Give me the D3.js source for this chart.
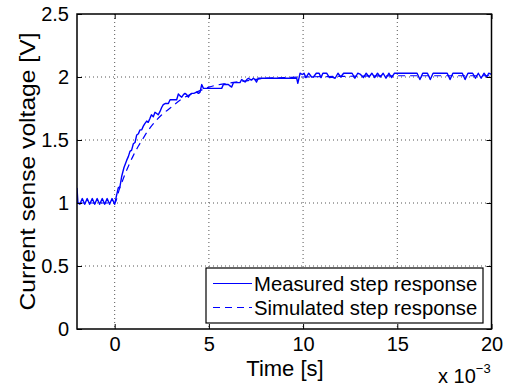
<!DOCTYPE html>
<html>
<head>
<meta charset="utf-8">
<script src="https://cdn.jsdelivr.net/npm/d3@7"></script>
<style>
    body { margin: 0; background: #fff; }
    svg { display: block; font-family: "Liberation Sans", Arial, sans-serif; }
</style>
</head>
<body>
<svg id="chart" width="510" height="387"></svg>
<script>
// time in ms (axis is shown as x 10^-3 s)
const measuredT = [
    -2.0, -1.95, -1.85, -1.72, -1.59, -1.46, -1.33, -1.19, -1.06, -0.93, -0.8, -0.66, -0.53, -0.4, -0.27, -0.14, 0.0,
    0.1, 0.19, 0.28, 0.37, 0.49, 0.64, 0.73, 0.81, 0.9, 0.99, 1.08, 1.17, 1.26, 1.34, 1.43, 1.52, 1.6, 1.7, 1.78,
    1.87, 1.95, 2.05, 2.14, 2.23, 2.31, 2.4, 2.5, 2.58, 2.7, 2.85, 2.94, 3.1, 3.29, 3.38, 3.47, 3.56, 3.65, 3.73,
    3.82, 3.91, 4.0, 4.09, 4.2, 4.35, 4.45, 4.53, 4.62, 4.71, 5.06, 5.68, 5.77, 6.03, 6.12, 6.21, 6.3, 6.65, 6.74,
    6.83, 6.92, 7.01, 7.1, 7.19, 7.27, 7.36, 7.45, 7.53, 7.62, 7.75, 7.89, 8.6, 9.66, 9.72, 9.84, 9.95, 10.05,
    10.15, 10.3, 10.45, 10.55, 10.7, 10.85, 10.95, 11.05, 11.25, 11.4, 11.55, 11.7, 11.85, 12.0, 12.15, 12.6,
    12.75, 12.9, 13.05, 13.2, 13.35, 13.5, 13.65, 13.8, 13.95, 14.1, 14.25, 14.4, 14.55, 14.7, 14.85, 15.0,
    16.05, 16.2, 16.35, 16.6, 16.75, 16.9, 17.65, 17.8, 17.95, 18.45, 18.6, 18.75, 19.0, 19.15, 19.3, 19.45,
    19.6, 19.75, 19.85, 20.0
];
const measuredV = [
    1.12, 1.0, 0.99, 1.035, 0.99, 1.035, 0.99, 1.035, 0.99, 1.035, 0.99, 1.035, 0.99, 1.035, 0.99, 1.035, 0.99,
    1.06, 1.12, 1.13, 1.21, 1.28, 1.34, 1.37, 1.41, 1.42, 1.47, 1.48, 1.54, 1.55, 1.58, 1.58, 1.61, 1.63, 1.65, 1.64,
    1.67, 1.7, 1.685, 1.72, 1.71, 1.7, 1.725, 1.76, 1.78, 1.79, 1.79, 1.82, 1.82, 1.82, 1.865, 1.85, 1.84, 1.86, 1.87,
    1.86, 1.84, 1.86, 1.87, 1.87, 1.88, 1.87, 1.88, 1.94, 1.91, 1.91, 1.91, 1.94, 1.94, 1.93, 1.92, 1.955, 1.955, 1.98,
    1.97, 1.96, 1.98, 1.99, 1.98, 1.976, 1.99, 1.98, 1.96, 1.99, 1.99, 1.99, 1.99, 1.99, 1.95, 2.03, 2.02, 2.03,
    1.995, 2.03, 2.0, 2.0, 2.03, 2.03, 1.995, 2.03, 2.03, 1.995, 2.0, 1.99, 2.03, 2.0, 2.03, 2.03,
    1.99, 2.03, 2.02, 1.995, 2.03, 2.0, 2.03, 1.995, 2.03, 2.0, 2.03, 1.99, 2.03, 1.995, 2.03, 2.03,
    2.03, 1.98, 2.03, 2.03, 1.98, 2.03, 2.03, 1.98, 2.03, 2.03, 1.98, 2.03, 2.03, 1.99, 2.03, 1.99,
    2.03, 2.0, 2.03, 2.02
];
const simulatedT = [-2, 0, 0.25, 0.5, 0.75, 1, 1.25, 1.5, 1.75, 2, 2.5, 3, 3.5, 4, 4.5, 5, 6, 7, 8, 9, 10, 12, 15, 20];
const simulatedV = [1.0, 1.0, 1.11, 1.21, 1.3, 1.38, 1.45, 1.51, 1.57, 1.62, 1.7, 1.76, 1.82, 1.86, 1.89, 1.92,
    1.95, 1.97, 1.99, 1.995, 2.0, 2.005, 2.01, 2.01];

const xTicks = [0, 5, 10, 15, 20];
const yTicks = [0, 0.5, 1, 1.5, 2, 2.5];
const legendLabels = ['Measured step response', 'Simulated step response'];

const svg = d3.select('#chart');
const box = { l: 77, r: 491.5, t: 14, b: 329 };

const x = d3.scaleLinear().domain([-2, 20]).range([box.l, box.r]);
const y = d3.scaleLinear().domain([0, 2.5]).range([box.b, box.t]);

svg.append('defs').append('clipPath').attr('id', 'clip')
    .append('rect')
    .attr('x', box.l).attr('y', box.t)
    .attr('width', box.r - box.l).attr('height', box.b - box.t);

// grid (dotted)
const grid = svg.append('g').attr('class', 'grid');
grid.selectAll('line.gx')
    .data(xTicks.filter(d => d > -2 && d < 20))
    .enter().append('line')
    .attr('x1', d => x(d)).attr('x2', d => x(d))
    .attr('y1', box.t).attr('y2', box.b)
    .attr('stroke', '#555').attr('stroke-width', 1).attr('stroke-dasharray', '1,3');
grid.selectAll('line.gy')
    .data(yTicks.filter(d => d > 0 && d < 2.5))
    .enter().append('line')
    .attr('x1', box.l).attr('x2', box.r)
    .attr('y1', d => y(d)).attr('y2', d => y(d))
    .attr('stroke', '#555').attr('stroke-width', 1).attr('stroke-dasharray', '1,3');

// data lines
const line = d3.line().x(d => x(d[0])).y(d => y(d[1]));
const measured = measuredT.map((t, i) => [t, measuredV[i]]);
const simulated = simulatedT.map((t, i) => [t, simulatedV[i]]);
const plot = svg.append('g').attr('clip-path', 'url(#clip)');
plot.append('path')
    .attr('d', line.curve(d3.curveMonotoneX)(simulated))
    .attr('fill', 'none').attr('stroke', '#0000ff')
    .attr('stroke-width', 1.2).attr('stroke-dasharray', '7,5');
plot.append('path')
    .attr('d', line.curve(d3.curveLinear)(measured))
    .attr('fill', 'none').attr('stroke', '#0000ff')
    .attr('stroke-width', 1.4).attr('stroke-linejoin', 'round');

// axes
const xAxis = d3.axisBottom(x).tickValues(xTicks).tickSizeInner(-5).tickSizeOuter(0).tickPadding(7.5);
const yAxis = d3.axisLeft(y).tickValues(yTicks).tickFormat(d3.format('')).tickSizeInner(-5).tickSizeOuter(0).tickPadding(8);
const gx = svg.append('g').attr('transform', `translate(0,${box.b})`).call(xAxis);
const gy = svg.append('g').attr('transform', `translate(${box.l},0)`).call(yAxis);
[gx, gy].forEach(g => {
    g.select('.domain').remove();
    g.selectAll('line').attr('stroke', '#000');
    g.selectAll('text').attr('font-size', 20).attr('fill', '#000')
        .attr('font-family', '"Liberation Sans", Arial, sans-serif');
});
// mirrored ticks on top / right
svg.append('g').attr('transform', `translate(0,${box.t})`)
    .call(d3.axisTop(x).tickValues(xTicks).tickSizeInner(-5).tickSizeOuter(0).tickFormat(''))
    .call(g => g.select('.domain').remove());
svg.append('g').attr('transform', `translate(${box.r},0)`)
    .call(d3.axisRight(y).tickValues(yTicks).tickSizeInner(-5).tickSizeOuter(0).tickFormat(''))
    .call(g => g.select('.domain').remove());

svg.append('rect')
    .attr('x', box.l).attr('y', box.t)
    .attr('width', box.r - box.l).attr('height', box.b - box.t)
    .attr('fill', 'none').attr('stroke', '#000').attr('stroke-width', 1.5);

// labels
svg.append('text')
    .attr('x', 285).attr('y', 375.5)
    .attr('text-anchor', 'middle').attr('font-size', 22)
    .text('Time [s]');
svg.append('text')
    .attr('transform', `translate(35,${(box.t + box.b) / 2}) rotate(-90)`)
    .attr('text-anchor', 'middle').attr('font-size', 22)
    .attr('textLength', 278).attr('lengthAdjust', 'spacingAndGlyphs')
    .text('Current sense voltage [V]');
const exp = svg.append('text').attr('x', 438).attr('y', 383).attr('font-size', 20);
exp.append('tspan').text('x 10');
exp.append('tspan').attr('dy', -10).attr('font-size', 13).text('\u22123');

// legend
const lg = svg.append('g');
lg.append('rect')
    .attr('x', 206).attr('y', 268).attr('width', 277).attr('height', 55)
    .attr('fill', '#fff').attr('stroke', '#000').attr('stroke-width', 1.2);
const items = lg.selectAll('g.item')
    .data(legendLabels)
    .enter().append('g')
    .attr('transform', (d, i) => `translate(0,${283.5 + i * 24})`);
items.append('line')
    .attr('x1', 213).attr('x2', 252)
    .attr('stroke', '#0000ff').attr('stroke-width', 1.2)
    .attr('stroke-dasharray', (d, i) => i ? '7,5' : null);
items.append('text')
    .attr('x', 254).attr('y', 7)
    .attr('font-size', 20.3)
    .text(d => d);
</script>
</body>
</html>
